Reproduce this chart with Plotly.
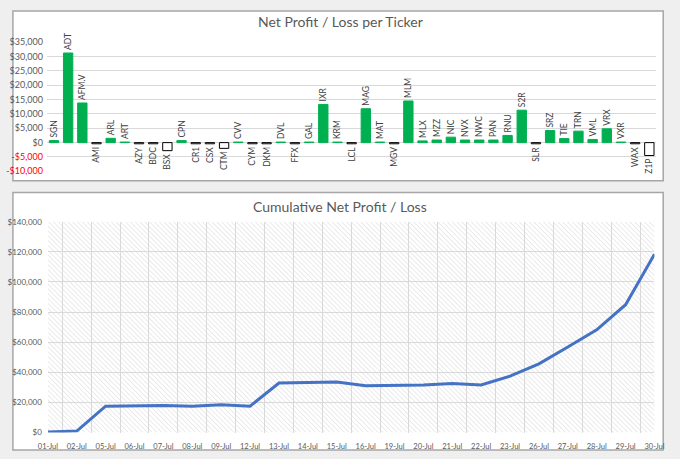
import base64
import plotly.graph_objects as go

# per-ticker net profit / loss
tickers = ["SGN", "ADT", "AFM.V", "AMI", "ARL", "ART", "AZY", "BDC", "BSX", "CPN",
           "CR1", "CSX", "CTM", "CVV", "CYM", "DKM", "DVL", "FFX", "GAL", "IXR",
           "KRM", "LCL", "MAG", "MAT", "MGV", "MLM", "MLX", "MZZ", "NIC", "NVX",
           "NWC", "PAN", "RNU", "S2R", "SLR", "SRZ", "TIE", "TRN", "VML", "VRX",
           "VXR", "WAX", "Z1P"]
net = [700, 31200, 13800, -400, 1500, 200, -400, -400, -2800, 700,
       -400, -400, -2000, 200, -400, -400, 200, -400, 200, 13300,
       200, -400, 11800, 200, -400, 14500, 600, 900, 1900, 900,
       900, 900, 2500, 11300, -400, 4200, 1400, 4000, 1100, 4800,
       200, -400, -4500]

# cumulative net profit / loss by trading day
dates = ["01-Jul", "02-Jul", "05-Jul", "06-Jul", "07-Jul", "08-Jul", "09-Jul", "12-Jul",
         "13-Jul", "14-Jul", "15-Jul", "16-Jul", "19-Jul", "20-Jul", "21-Jul", "22-Jul",
         "23-Jul", "26-Jul", "27-Jul", "28-Jul", "29-Jul", "30-Jul"]
cumulative = [300, 1000, 17500, 18000, 18000, 17500, 18500, 17500,
              32900, 33300, 33500, 31100, 31500, 31500, 32600, 31600,
              37400, 45600, 56800, 68200, 84900, 118400]

top_ticks = [35000, 30000, 25000, 20000, 15000, 10000, 5000, 0, -5000, -10000]
bottom_ticks = [0, 20000, 40000, 60000, 80000, 100000, 120000, 140000]

FONT = "Lato"
GREY_TXT = "#595959"
GRID = "#d9d9d9"


def money(v):
    s = "${:,.0f}".format(abs(v))
    if v < 0:
        return "<span style='color:#ff0000'>-" + s + "</span>"
    return s


fig = go.Figure()

fig.add_trace(go.Bar(
    x=tickers, y=net, xaxis="x", yaxis="y",
    width=0.66,
    marker=dict(color=["#00b050" if v >= 0 else "white" for v in net],
                line=dict(color=["#00b050" if v >= 0 else "black" for v in net], width=1)),
    text=tickers, textposition="outside", textangle=-90, constraintext="none",
    textfont=dict(family=FONT, size=8.5, color="#404040"),
    cliponaxis=False, showlegend=False,
))

fig.add_trace(go.Scatter(
    x=dates, y=cumulative, xaxis="x2", yaxis="y2", mode="lines",
    line=dict(color="#4472c4", width=3), showlegend=False,
))

# diagonal hatch for the lower plot area
svg = ("<svg xmlns='http://www.w3.org/2000/svg' width='625' height='216'>"
       "<defs><pattern id='h' width='3.5' height='3.5' patternUnits='userSpaceOnUse' "
       "patternTransform='rotate(-45)'><line x1='0' y1='0' x2='0' y2='3.5' "
       "stroke='#d4d4d4' stroke-width='1'/></pattern></defs>"
       "<rect width='625' height='216' fill='white'/>"
       "<rect width='625' height='216' fill='url(#h)'/></svg>")
hatch = "data:image/svg+xml;base64," + base64.b64encode(svg.encode()).decode()

top_dom = [1 - 169.4 / 459, 1 - 37 / 459]
bot_dom = [1 - 437 / 459, 1 - 221 / 459]

fig.update_layout(
    width=680, height=459,
    margin=dict(l=0, r=0, t=0, b=0),
    paper_bgcolor="#efefef", plot_bgcolor="rgba(0,0,0,0)",
    font=dict(family=FONT, color=GREY_TXT),
    xaxis=dict(domain=[38 / 680, 666 / 680], anchor="y", showticklabels=False,
               showgrid=False, zeroline=False, showline=False, ticks=""),
    yaxis=dict(domain=top_dom, anchor="x", range=[-10000, 35000],
               tickvals=top_ticks, ticktext=[money(v) for v in top_ticks],
               tickfont=dict(size=9), showgrid=True, gridcolor=GRID, gridwidth=1,
               zeroline=True, zerolinecolor=GRID, zerolinewidth=1, ticklabelstandoff=3),
    xaxis2=dict(domain=[39 / 680, 664 / 680], anchor="y2", type="category",
                tickson="boundaries", showgrid=True, gridcolor=GRID, gridwidth=1,
                tickfont=dict(size=7.5), tickangle=0, ticks="", showline=False,
                ticklabelstandoff=8),
    yaxis2=dict(domain=bot_dom, anchor="x2", range=[0, 140000],
                tickvals=bottom_ticks, ticktext=[money(v) for v in bottom_ticks],
                tickfont=dict(size=8), showgrid=True, gridcolor=GRID, gridwidth=1,
                zeroline=False, ticklabelstandoff=5),
    shapes=[
        dict(type="rect", xref="paper", yref="paper", x0=3 / 680, x1=673 / 680,
             y0=1 - 179 / 459, y1=1 - 5 / 459, fillcolor="white",
             line=dict(color="#a6a6a6", width=1.5), layer="below"),
        dict(type="rect", xref="paper", yref="paper", x0=3 / 680, x1=673 / 680,
             y0=1 - 455 / 459, y1=1 - 191 / 459, fillcolor="white",
             line=dict(color="#a6a6a6", width=1.5), layer="below"),
    ],
    images=[dict(source=hatch, xref="x2 domain", yref="y2 domain", x=0, y=1,
                 sizex=1, sizey=1, sizing="stretch", xanchor="left", yanchor="top",
                 layer="below")],
    annotations=[
        dict(text="Net Profit / Loss per Ticker", xref="paper", yref="paper",
             x=0.5, y=1 - 16 / 459, showarrow=False, yanchor="middle",
             font=dict(size=14, color=GREY_TXT)),
        dict(text="Cumulative Net Profit / Loss", xref="paper", yref="paper",
             x=0.5, y=1 - 205 / 459, showarrow=False, yanchor="middle",
             font=dict(size=14, color=GREY_TXT)),
    ],
)

fig.write_html("out.html", config={"displayModeBar": False},
               post_script="document.body.style.margin='0';")
